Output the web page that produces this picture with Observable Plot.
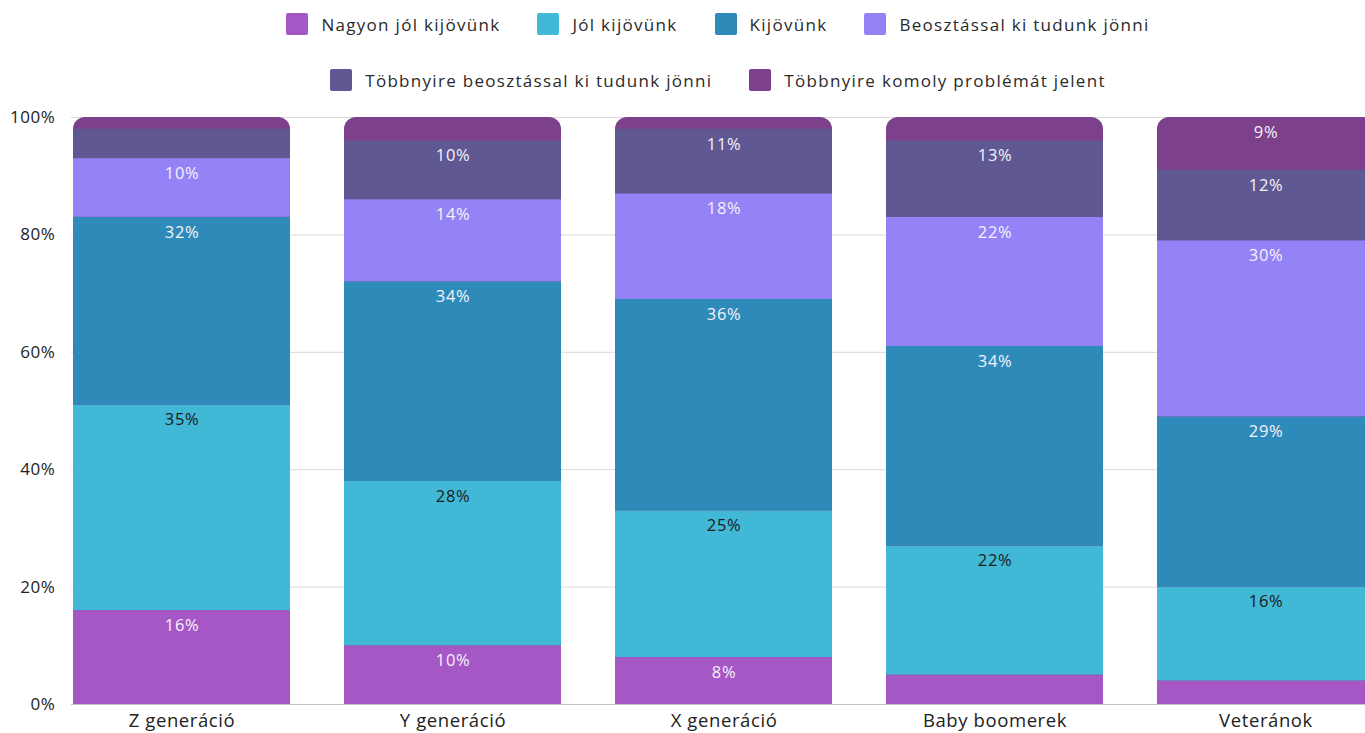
<!DOCTYPE html>
<html><head><meta charset="utf-8">
<script src="https://cdn.jsdelivr.net/npm/d3@7"></script>
<script src="https://cdn.jsdelivr.net/npm/@observablehq/plot@0.6"></script>
<style>
body{margin:0;overflow:hidden;background:#fff;font-family:"Open Sans",sans-serif;}
#wrap{position:relative;width:1436px;height:733px;}
#legend{position:absolute;top:0;left:0;width:1436px;z-index:2;}
.row{position:absolute;left:0;width:1436px;display:flex;justify-content:center;gap:37px;height:22px;align-items:center;}
.item{display:flex;align-items:center;gap:13px;font-size:17px;letter-spacing:1.3px;color:#2a2a2a;white-space:nowrap;}
.sw{width:22px;height:22px;border-radius:2px;display:inline-block;}
#chart{position:absolute;top:0;left:0;}
</style></head>
<body>
<div id="wrap"><div id="legend"></div><div id="chart"></div></div>
<script>
const categories = ["Z generáció","Y generáció","X generáció","Baby boomerek","Veteránok"];
const series = ["Nagyon jól kijövünk","Jól kijövünk","Kijövünk","Beosztással ki tudunk jönni","Többnyire beosztással ki tudunk jönni","Többnyire komoly problémát jelent"];
const colors = ["#a557c6","#41b8d5","#2e8bb9","#9483f6","#605893","#7d408b"];
const nagyonJol = [16,10,8,5,4];
const jol = [35,28,25,22,16];
const kijovunk = [32,34,36,34,29];
const beosztassal = [10,14,18,22,30];
const tobbnyireBeoszt = [5,10,11,13,12];
const komoly = [2,4,2,4,9];
const yTicks = [0,20,40,60,80,100];
const legendRows = [[0,1,2,3],[4,5]];

const seriesValues = [nagyonJol, jol, kijovunk, beosztassal, tobbnyireBeoszt, komoly];
const rows = [];
series.forEach((s,i)=>categories.forEach((c,j)=>rows.push({cat:c, series:s, value:seriesValues[i][j]})));
const totals = categories.map((c,j)=>({cat:c, series:series[5], total:d3.sum(seriesValues,v=>v[j])}));
const stackedRows = rows.filter(d=>d.series!==series[5]);

// legend
const leg = document.getElementById("legend");
legendRows.forEach((r,k)=>{
  const row = document.createElement("div");
  row.className="row"; row.style.top = (k===0?13:69)+"px";
  r.forEach(i=>{
    const it=document.createElement("div"); it.className="item";
    const sw=document.createElement("span"); sw.className="sw"; sw.style.background=colors[i];
    const t=document.createElement("span"); t.textContent=series[i];
    it.appendChild(sw); it.appendChild(t); row.appendChild(it);
  });
  leg.appendChild(row);
});

const labelText = (cond) => d => (cond(d) && d.value >= 8) ? d.value + "%" : "";

const plot = Plot.plot({
  width: 1436, height: 744,
  marginLeft: 71, marginRight: 60, marginTop: 117, marginBottom: 40,
  style: {fontFamily: '"Open Sans", sans-serif', color: "#222", background: "#fff", letterSpacing: "0.6px"},
  x: {domain: categories, paddingInner: 0.2, paddingOuter: 0, label: null},
  y: {domain: [0,100], label: null},
  color: {domain: series, range: colors},
  marks: [
    Plot.gridY(yTicks, {stroke: "#d9d9d9", strokeOpacity: 1}),
    Plot.ruleY([0], {stroke: "#c4c4c4"}),
    Plot.barY(totals, {x: "cat", y1: 0, y2: "total", fill: "series", rx: 12}),
    Plot.barY(stackedRows, Plot.stackY({x: "cat", y: "value", fill: "series"})),
    Plot.text(rows, Plot.stackY2({x: "cat", y: "value", text: labelText(d=>d.series!==series[1]), fill: "#f6f2fb", dy: 15, fontSize: 16.5})),
    Plot.text(rows, Plot.stackY2({x: "cat", y: "value", text: labelText(d=>d.series===series[1]), fill: "#1b1b1b", dy: 15, fontSize: 16.5})),
    Plot.axisY(yTicks, {tickSize: 0, tickPadding: 16, tickFormat: d => d + "%", fontSize: 17, label: null}),
    Plot.axisX({tickSize: 0, tickPadding: 9, fontSize: 18.5, label: null, style: {letterSpacing: "1.2px"}})
  ]
});
document.getElementById("chart").appendChild(plot);
</script>
</body></html>
